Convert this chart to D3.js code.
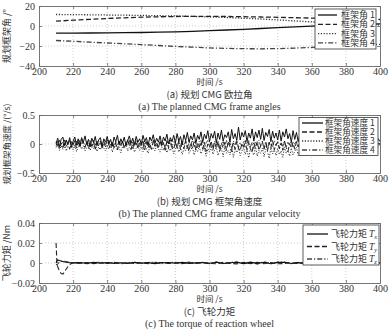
<!DOCTYPE html>
<html><head><meta charset="utf-8">
<script src="https://cdn.jsdelivr.net/npm/d3@7"></script>
<style>
body{margin:0;background:#fff}
svg{display:block}
.tick-label{font-family:"Liberation Serif","Times New Roman",serif;font-size:10px;fill:#333}
.cn{font-family:"Noto Sans CJK SC",sans-serif;fill:#333}
.en{font-family:"Liberation Serif","Times New Roman",serif;fill:#333}
</style>
</head><body>
<svg id="chart" width="390" height="332"></svg>
<script>
// ---- shared time axis ----
const timeTicks = [200, 220, 240, 260, 280, 300, 320, 340, 360, 380, 400];
const timeTickLabels = ["200","220","240","260","280","300","320","340","360","380","400"];

// ---- (a) planned gimbal angles, deg ----
const angleTime = [210,220,230,240,250,260,270,280,290,300,310,320,330,340,350,360,370,380,390,400];
const angle1 = [-7.2,-7.1,-7.0,-6.9,-6.7,-6.5,-6.2,-5.8,-5.3,-4.7,-4.0,-3.3,-2.5,-1.7,-0.9,-0.1,0.6,1.2,1.7,2.1];
const angle2 = [4.8,5.8,6.7,7.5,8.2,8.8,9.2,9.5,9.6,9.6,9.5,9.3,9.0,8.7,8.3,7.9,7.5,7.1,6.8,6.5];
const angle3 = [11.5,11.4,11.2,11.0,10.8,10.6,10.3,10.0,9.6,9.1,8.5,7.8,7.0,6.1,5.1,4.1,3.2,2.4,1.7,1.1];
const angle4 = [-14.5,-15.3,-16.2,-17.0,-17.8,-18.6,-19.5,-20.4,-21.2,-21.9,-22.4,-22.7,-22.8,-22.6,-22.1,-21.4,-20.6,-19.8,-19.0,-18.3];
const angleTicks = [20, 0, -20, -40];
const angleTickLabels = ["20", "0", "\u221220", "\u221240"];
const angleNames = ["框架角 1", "框架角 2", "框架角 3", "框架角 4"];

// ---- (b) planned gimbal rates, deg/s, one sample per second 210..400 ----
const rateTime = d3.range(210, 401, 1);
const rate1 = [
 .01,.10,-.05,.08,.12,-.03,.07,.00,.11,-.06,
 .05,.12,-.02,.09,-.04,.11,.03,.14,-.01,.08,
 -.05,.10,.02,.13,-.03,.07,.11,-.04,.09,.03,
 .13,.00,.08,-.04,.12,.04,.15,-.02,.09,.02,
 .12,-.03,.06,.14,.01,.10,-.01,.13,.03,.09,
 .00,.15,.04,.11,-.03,.12,.05,.16,.01,.10,
 .03,.14,-.01,.12,.05,.17,.00,.11,.04,.15,
 .02,.18,.05,.13,-.01,.16,.06,.20,.03,.14,
 .07,.19,.01,.15,.08,.21,.03,.17,.09,.23,
 .04,.18,.10,.22,.02,.19,.08,.24,.05,.16,
 .11,.21,.03,.25,.09,.18,.06,.29,.07,.20,
 .12,.23,.04,.19,.10,.26,.05,.21,.11,.24,
 .08,.27,.06,.20,.13,.25,.04,.22,.10,.19,
 .07,.24,.05,.21,.12,.26,.09,.18,.03,.23,
 .08,.20,.04,.17,.10,.22,.02,.16,.06,.19,
 .01,.15,.05,.18,.00,.13,.04,.16,.02,.11,
 .03,.14,-.01,.12,.05,.15,.02,.10,.04,.13,
 .00,.11,.04,.14,.01,.09,.03,.12,-.01,.08,
 .02,.11,.00,.09,.04,.10,.01,.08,.03,.09,
 .04];
const rate2 = [
 -.03,.05,-.08,.02,-.06,.07,-.04,.01,-.09,.04,
 -.02,.06,-.07,.03,-.05,.08,-.01,-.06,.04,-.08,
 .02,-.04,.06,-.09,.01,-.03,.05,-.07,.03,-.05,
 .07,-.02,-.08,.04,-.06,.02,-.10,.05,-.03,.06,
 -.07,.01,-.04,.08,-.09,.03,-.05,.06,-.08,.02,
 -.03,.07,-.10,.04,-.06,.01,-.09,.05,-.04,.03,
 -.08,.06,-.05,.02,-.11,.04,-.07,.07,-.03,-.09,
 .03,-.06,.05,-.10,.01,-.08,.06,-.04,-.12,.02,
 -.07,.04,-.11,.01,-.05,.06,-.09,.03,-.13,.00,
 -.06,.05,-.10,.02,-.08,.04,-.12,.01,-.07,.03,
 -.11,.05,-.06,-.13,.02,-.09,.04,-.07,-.12,.01,
 -.05,.06,-.10,.03,-.08,-.14,.02,-.06,.04,-.11,
 -.03,.05,-.09,.01,-.12,.03,-.07,.06,-.10,-.02,
 .04,-.08,.02,-.11,.05,-.06,-.13,.01,-.07,.03,
 -.09,.04,-.05,.02,-.10,.06,-.04,-.08,.03,-.06,
 .02,-.07,.04,-.05,.01,-.08,.03,-.04,.05,-.06,
 -.02,.04,-.07,.03,-.05,.02,-.06,.04,-.03,.01,
 -.05,.03,-.04,.02,-.06,.04,-.02,.03,-.05,.01,
 -.03,.04,-.02,.02,-.04,.03,-.01,.02,-.03,.01,
 .00];
const rate3 = [
 -.06,.01,-.11,-.03,-.09,.02,-.12,-.04,-.08,.00,
 -.10,-.02,-.13,-.05,.01,-.09,-.03,-.12,-.06,-.01,
 -.11,-.04,-.08,.02,-.13,-.05,-.10,-.01,-.07,-.12,
 -.03,-.09,.01,-.14,-.06,-.02,-.11,-.05,-.15,-.04,
 -.08,.00,-.12,-.06,-.10,-.02,-.14,-.07,-.03,-.11,
 -.05,-.13,.01,-.09,-.16,-.04,-.10,-.06,-.12,-.02,
 -.08,-.14,-.05,-.11,-.01,-.15,-.07,-.12,-.04,-.17,
 -.09,-.03,-.14,-.06,-.18,-.08,-.12,-.02,-.16,-.10,
 -.05,-.19,-.09,-.13,-.04,-.17,-.11,-.07,-.21,-.08,
 -.14,-.03,-.18,-.10,-.06,-.20,-.12,-.08,-.22,-.05,
 -.16,-.11,-.19,-.04,-.23,-.09,-.15,-.07,-.20,-.12,
 -.06,-.18,-.10,-.24,-.08,-.14,-.19,-.05,-.21,-.11,
 -.16,-.07,-.22,-.09,-.13,-.25,-.06,-.17,-.10,-.20,
 -.08,-.18,-.12,-.23,-.05,-.16,-.11,-.21,-.07,-.19,
 -.13,-.06,-.20,-.09,-.17,-.04,-.15,-.10,-.18,-.07,
 -.12,-.05,-.16,-.08,-.13,-.03,-.14,-.09,-.11,-.04,
 -.10,-.06,-.13,-.02,-.09,-.11,-.05,-.12,-.07,-.03,
 -.09,-.05,-.11,-.03,-.08,-.10,-.04,-.07,-.02,-.09,
 -.06,-.03,-.08,-.04,-.07,-.02,-.05,-.06,-.03,-.04,
 -.02];
const rate4 = [
 .04,-.05,.07,-.02,.03,-.07,.05,-.01,.06,-.04,
 .02,-.06,.05,-.03,.07,-.01,.04,-.05,.03,-.02,
 .06,-.04,.01,-.07,.05,-.02,.03,-.06,.04,.00,
 -.05,.06,-.03,.02,-.07,.04,-.01,.05,-.04,.03,
 -.06,.01,.07,-.03,.04,-.08,.02,-.02,.05,-.05,
 .03,-.07,.06,-.01,.04,-.06,.02,.07,-.04,.01,
 -.05,.05,-.02,.03,-.08,.06,-.03,.01,-.06,.04,
 .02,-.07,.05,-.04,.06,-.01,.03,-.08,.04,-.02,
 .07,-.05,.01,-.06,.05,-.03,.04,-.09,.02,.06,
 -.04,.03,-.07,.05,-.02,.06,-.08,.01,.04,-.05,
 .06,-.03,.02,-.09,.05,-.01,.07,-.06,.03,-.04,
 .05,-.07,.01,.06,-.05,.03,-.08,.04,-.02,.07,
 -.04,.02,-.06,.05,-.09,.03,.01,-.05,.06,-.03,
 .04,-.08,.02,-.04,.06,-.06,.03,-.02,.05,-.07,
 .01,.04,-.05,.03,-.06,.02,-.03,.05,-.04,.01,
 -.05,.03,-.02,.04,-.04,.01,-.06,.03,-.01,.02,
 -.04,.02,.03,-.05,.01,-.03,.04,-.02,.01,-.04,
 .03,-.02,.01,-.04,.02,-.01,.03,-.03,.00,.02,
 -.03,.01,-.02,.03,-.01,.02,-.03,.01,-.02,.01,
 .00];
const rateTicks = [0.5, 0, -0.5];
const rateTickLabels = ["0.5", "0", "\u22120.5"];
const rateNames = ["框架角速度 1", "框架角速度 2", "框架角速度 3", "框架角速度 4"];

// ---- (c) reaction wheel torque, Nm ----
const torqueTime = [210,210.5,211,212,213,214,215,216,217,218,219,220].concat(d3.range(224, 401, 4));
const torqueX = [0,.002,.003,.0025,.002,.0015,.001,.0008,.0005,.0003,.0002,.0001,
 .0004,-.0003,.0006,-.0002,.0005,-.0004,.0003,-.0005,.0006,-.0001,
 .0004,-.0006,.0002,.0005,-.0003,.0006,-.0004,.0001,.0005,-.0002,
 .0007,-.0005,.0003,.0008,-.0006,.0009,-.0004,.0007,-.0007,.0006,
 .0008,-.0005,.0004,-.0003,.0005,-.0002,.0004,-.0004,.0003,-.0001,
 .0003,-.0003,.0002,-.0002,.0001];
const torqueY = [.02,.001,-.004,-.008,-.0105,-.011,-.009,-.006,-.0035,-.0015,-.0005,0,
 -.0003,.0005,-.0006,.0002,-.0004,.0006,-.0002,.0004,-.0005,.0003,
 -.0006,.0002,.0005,-.0004,.0003,-.0006,.0004,-.0003,.0002,-.0005,
 -.0008,.0006,-.0004,-.0009,.0007,-.0006,.0008,-.0007,.0005,-.0008,
 -.0006,.0004,-.0005,.0003,-.0004,.0005,-.0003,.0002,-.0004,.0003,
 -.0002,.0003,-.0001,.0002,-.0001];
const torqueZ = [-.001,-.002,-.001,.001,.0015,.002,.0018,.0015,.001,.0008,.0004,.0002,
 .0006,-.0008,.0003,.0009,-.0004,.0007,-.0009,.0002,.0008,-.0006,
 .0005,.0009,-.0007,.0004,.0008,-.0005,.0010,-.0003,.0007,-.0008,
 .0011,-.0009,.0006,.0012,-.0010,.0008,-.0011,.0013,-.0007,.0009,
 .0010,-.0008,.0006,-.0007,.0008,-.0005,.0007,-.0006,.0004,-.0005,
 .0005,-.0004,.0003,-.0003,.0002];
const torqueTicks = [0.04, 0.02, 0, -0.02];
const torqueTickLabels = ["0.04", "0.02", "0", "\u22120.02"];
const torqueNames = ["x", "y", "z"];

// ---- drawing ----
const svg = d3.select("#chart");
const X0 = 39, X1 = 380;
const x = d3.scaleLinear().domain([200, 400]).range([X0, X1]);

const lineStyles = [
  {dash: null, color: "#111"},
  {dash: "5,2.5", color: "#222"},
  {dash: "1.2,1.6", color: "#333"},
  {dash: "5,2,1.2,2", color: "#444"}
];

function drawPanel(p) {
  const y = d3.scaleLinear().domain(p.yDomain).range([p.bottom, p.top]);
  const g = svg.append("g");
  const clipId = "clip" + p.id;
  svg.append("clipPath").attr("id", clipId)
    .append("rect").attr("x", X0).attr("y", p.top).attr("width", X1 - X0).attr("height", p.bottom - p.top);

  // dotted grid
  const grid = g.append("g").attr("stroke", "#aaa").attr("stroke-width", 0.6).attr("stroke-dasharray", "1,2");
  timeTicks.slice(1, -1).forEach(t => grid.append("line")
    .attr("x1", x(t)).attr("x2", x(t)).attr("y1", p.top).attr("y2", p.bottom));
  p.yTicks.filter(v => v > p.yDomain[0] && v < p.yDomain[1]).forEach(v => grid.append("line")
    .attr("x1", X0).attr("x2", X1).attr("y1", y(v)).attr("y2", y(v)));

  // series (drawn in drawOrder, legend keeps natural order)
  const lineGen = d3.line().x(d => x(d[0])).y(d => y(d[1]));
  const sg = g.append("g").attr("clip-path", `url(#${clipId})`);
  p.drawOrder.forEach(i => {
    const vals = p.series[i];
    const st = lineStyles[p.styleIdx[i]];
    sg.append("path")
      .datum(p.time.map((t, k) => [t, vals[k]]))
      .attr("d", lineGen).attr("fill", "none")
      .attr("stroke", st.color).attr("stroke-width", p.lw)
      .attr("stroke-dasharray", st.dash);
  });

  // axes (box with inward ticks)
  const ax = g.append("g");
  const xAxisB = d3.axisBottom(x).tickValues(timeTicks).tickSizeInner(-3).tickSizeOuter(0)
    .tickFormat((d, i) => timeTickLabels[i]).tickPadding(1.5);
  ax.append("g").attr("transform", `translate(0,${p.bottom})`).call(xAxisB);
  const xAxisT = d3.axisTop(x).tickValues(timeTicks).tickSizeInner(-3).tickSizeOuter(0).tickFormat("");
  ax.append("g").attr("transform", `translate(0,${p.top})`).call(xAxisT);
  const yAxisL = d3.axisLeft(y).tickValues(p.yTicks).tickSizeInner(-3).tickSizeOuter(0)
    .tickFormat((d, i) => p.yTickLabels[i]).tickPadding(4);
  ax.append("g").attr("transform", `translate(${X0},0)`).call(yAxisL);
  const yAxisR = d3.axisRight(y).tickValues(p.yTicks).tickSizeInner(-3).tickSizeOuter(0).tickFormat("");
  ax.append("g").attr("transform", `translate(${X1},0)`).call(yAxisR);
  ax.selectAll(".domain").attr("stroke", "#666").attr("stroke-width", 0.9);
  ax.selectAll(".tick line").attr("stroke", "#666").attr("stroke-width", 0.8);
  ax.selectAll(".tick text").attr("class", "tick-label").attr("fill", null);

  // legend
  const L = p.legend;
  const lg = g.append("g");
  lg.append("rect").attr("x", L.x).attr("y", L.y).attr("width", L.w).attr("height", L.h)
    .attr("fill", "#fff").attr("stroke", "#333").attr("stroke-width", 0.8);
  L.rows.forEach((ry, i) => {
    const st = lineStyles[p.styleIdx[i]];
    lg.append("line").attr("x1", L.lx0).attr("x2", L.lx1).attr("y1", ry).attr("y2", ry)
      .attr("stroke", st.color).attr("stroke-width", 1.3).attr("stroke-dasharray", st.dash);
    const tx = lg.append("text").attr("x", L.tx).attr("y", ry + 3.1).attr("class", "cn")
      .style("font-size", L.size || "9px");
    L.label(tx, i);
  });

  // labels
  const cx = (X0 + X1) / 2;
  g.append("text").attr("x", cx).attr("y", p.bottom + 19).attr("text-anchor", "middle")
    .attr("class", "cn").style("font-size", "8.5px").text("时间 /s");
  g.append("text").attr("x", cx).attr("y", p.bottom + 31.5).attr("text-anchor", "middle")
    .attr("class", "cn").style("font-size", "9.5px").text(p.captionCn);
  g.append("text").attr("x", cx).attr("y", p.bottom + 44).attr("text-anchor", "middle")
    .attr("class", "en").style("font-size", "10px").text(p.captionEn);
  g.append("text").attr("transform", `translate(10,${(p.top + p.bottom) / 2}) rotate(-90)`)
    .attr("text-anchor", "middle").attr("class", "cn").style("font-size", p.ylabelSize || "9px").text(p.ylabel);
}

drawPanel({
  id: "a", top: 6, bottom: 66, yDomain: [-40, 20],
  yTicks: angleTicks, yTickLabels: angleTickLabels,
  time: angleTime, series: [angle1, angle2, angle3, angle4], styleIdx: [0, 1, 2, 3],
  drawOrder: [3, 2, 1, 0], lw: 1.3,
  ylabel: "规划框架角 /°",
  captionCn: "(a) 规划 CMG 欧拉角", captionEn: "(a) The planned CMG frame angles",
  legend: {x: 315, y: 9, w: 61, h: 40, rows: [15, 24.3, 33.6, 42.9], lx0: 318, lx1: 337, tx: 341,
    label: (t, i) => t.text(angleNames[i])}
});

drawPanel({
  id: "b", top: 115, bottom: 173, yDomain: [-0.5, 0.5],
  yTicks: rateTicks, yTickLabels: rateTickLabels,
  time: rateTime, series: [rate1, rate2, rate3, rate4], styleIdx: [0, 1, 2, 3],
  drawOrder: [3, 2, 1, 0], lw: 1.0,
  ylabel: "规划框架角速度 /(°/s)", ylabelSize: "8.5px",
  captionCn: "(b) 规划 CMG 框架角速度", captionEn: "(b) The planned CMG frame angular velocity",
  legend: {x: 299, y: 117.5, w: 79, h: 38, rows: [123, 132, 141, 150], lx0: 302, lx1: 323, tx: 325,
    size: "8.6px", label: (t, i) => t.text(rateNames[i])}
});

drawPanel({
  id: "c", top: 223, bottom: 283, yDomain: [-0.02, 0.04],
  yTicks: torqueTicks, yTickLabels: torqueTickLabels,
  time: torqueTime, series: [torqueX, torqueY, torqueZ], styleIdx: [0, 1, 3],
  drawOrder: [2, 1, 0], lw: 1.1,
  ylabel: "飞轮力矩 /Nm",
  captionCn: "(c) 飞轮力矩", captionEn: "(c) The torque of reaction wheel",
  legend: {x: 303, y: 225, w: 76, h: 40, rows: [234, 246.5, 259], lx0: 307, lx1: 328, tx: 331,
    label: (t, i) => {
      t.text("飞轮力矩 ");
      t.append("tspan").attr("class", "en").style("font-style", "italic").style("font-size", "9.5px").text("T");
      t.append("tspan").attr("class", "en").style("font-style", "italic").style("font-size", "6.5px")
        .attr("dy", 2).text(torqueNames[i]);
    }}
});
</script>
</body></html>
